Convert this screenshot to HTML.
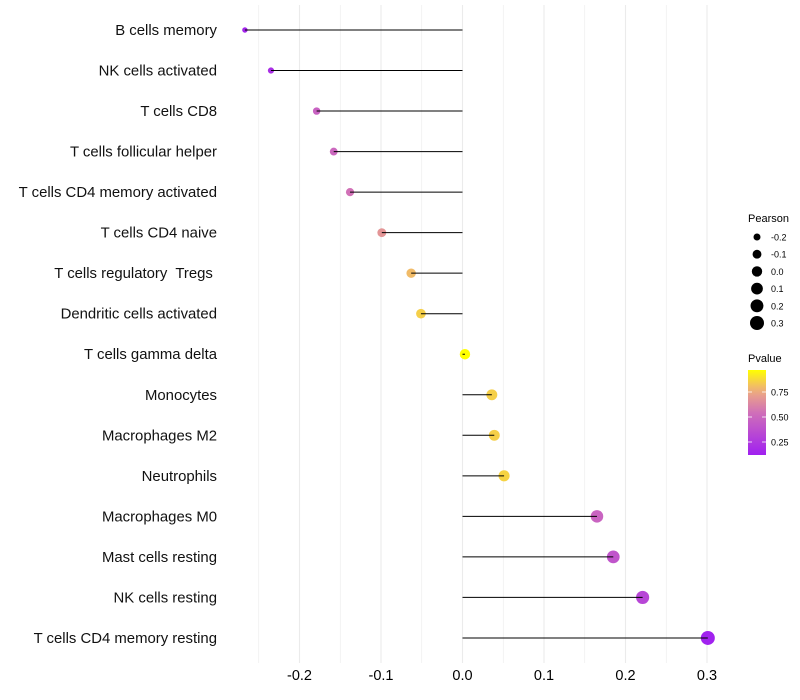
<!DOCTYPE html>
<html><head><meta charset="utf-8"><style>
body{margin:0;background:#fff;}
svg{display:block;font-family:"Liberation Sans",sans-serif;}
text{white-space:pre;}
</style></head><body>
<svg id="chart" width="800" height="700"></svg>
<script>
const categories=["B cells memory","NK cells activated","T cells CD8","T cells follicular helper","T cells CD4 memory activated","T cells CD4 naive","T cells regulatory  Tregs ","Dendritic cells activated","T cells gamma delta","Monocytes","Macrophages M2","Neutrophils","Macrophages M0","Mast cells resting","NK cells resting","T cells CD4 memory resting"];
const pearson=[-0.267,-0.235,-0.179,-0.158,-0.138,-0.099,-0.063,-0.051,0.003,0.036,0.039,0.051,0.165,0.185,0.221,0.301];
const pvalues=[0.15,0.2,0.47,0.5,0.55,0.68,0.8,0.85,0.98,0.85,0.85,0.86,0.48,0.4,0.32,0.13];
const xTicks=[-0.2,-0.1,0.0,0.1,0.2,0.3];
const xTickLabels=["-0.2","-0.1","0.0","0.1","0.2","0.3"];
const sizeLegend=[-0.2,-0.1,0.0,0.1,0.2,0.3];
const colorLegend=[0.25,0.5,0.75];

const NS="http://www.w3.org/2000/svg";
const svg=document.getElementById('chart');
function mk(t,a,p){const e=document.createElementNS(NS,t);for(const k in a)e.setAttribute(k,a[k]);(p||svg).appendChild(e);return e;}
const x=v=>462.5+v*815;
const y=i=>30+i*40.53;
const r=v=>Math.sqrt(Math.max(3,27+73.5*v));
const stops=[[0,[160,32,240]],[0.5,[208,112,184]],[0.75,[238,170,130]],[1,[255,255,0]]];
const pmn=0.12,pmx=0.97;
function col(p){let t=Math.max(0,Math.min(1,(p-pmn)/(pmx-pmn)));for(let i=1;i<stops.length;i++){if(t<=stops[i][0]){const a=stops[i-1],b=stops[i];const f=(t-a[0])/(b[0]-a[0]);const c=a[1].map((v,k)=>Math.round(v+(b[1][k]-v)*f));return `rgb(${c})`;}}return 'rgb(255,255,0)';}

for(let v=-0.25;v<=0.301;v+=0.05){
  const g=mk('line',{x1:x(v),x2:x(v),y1:5,y2:663,stroke:'#ebebeb','stroke-width':Math.abs(Math.round(v*20))%2===0?1.1:0.6});
  
  
}
xTicks.forEach((v,i)=>{
  const t=mk('text',{x:x(v),y:680,'text-anchor':'middle','font-size':14.5,fill:'#000'});
  t.textContent=xTickLabels[i];
  
  
});
categories.forEach((c,i)=>{
  const t=mk('text',{x:217,y:y(i)+5,'text-anchor':'end','font-size':14.9,fill:'#111'});
  t.textContent=c;
  
  
  const d=mk('circle',{cx:x(pearson[i]),cy:y(i),r:r(pearson[i]),fill:col(pvalues[i])});
  
  
  const l=mk('line',{x1:x(0),x2:x(pearson[i]),y1:y(i),y2:y(i),stroke:'#000','stroke-width':1});
  
  
});
const lt=mk('text',{x:748,y:222,'font-size':11,fill:'#000'});lt.textContent='Pearson';


sizeLegend.forEach((v,i)=>{
  const cy=237+i*17.2;
  const c=mk('circle',{cx:757,cy:cy,r:r(v),fill:'#000'});
  
  
  const t=mk('text',{x:771,y:cy+3.5,'font-size':9,fill:'#000'});t.textContent=v.toFixed(1);
  
  
});
const pt=mk('text',{x:748,y:362,'font-size':11,fill:'#000'});pt.textContent='Pvalue';


const defs=mk('defs',{});
const lg=mk('linearGradient',{id:'pg',x1:0,y1:1,x2:0,y2:0},defs);
for(let k=0;k<=10;k++){const p=pmn+(pmx-pmn)*k/10;mk('stop',{offset:k/10,'stop-color':col(p)},lg);}
const bar=mk('rect',{x:748,y:370,width:18,height:85,fill:'url(#pg)'});


const cy=p=>455-(p-pmn)/(pmx-pmn)*85;
colorLegend.forEach(p=>{
  mk('line',{x1:748,x2:752,y1:cy(p),y2:cy(p),stroke:'#fff','stroke-width':0.8});
  mk('line',{x1:762,x2:766,y1:cy(p),y2:cy(p),stroke:'#fff','stroke-width':0.8});
  const t=mk('text',{x:771,y:cy(p)+3.5,'font-size':9,fill:'#000'});t.textContent=p.toFixed(2);
  
  
});
</script>
</body></html>
